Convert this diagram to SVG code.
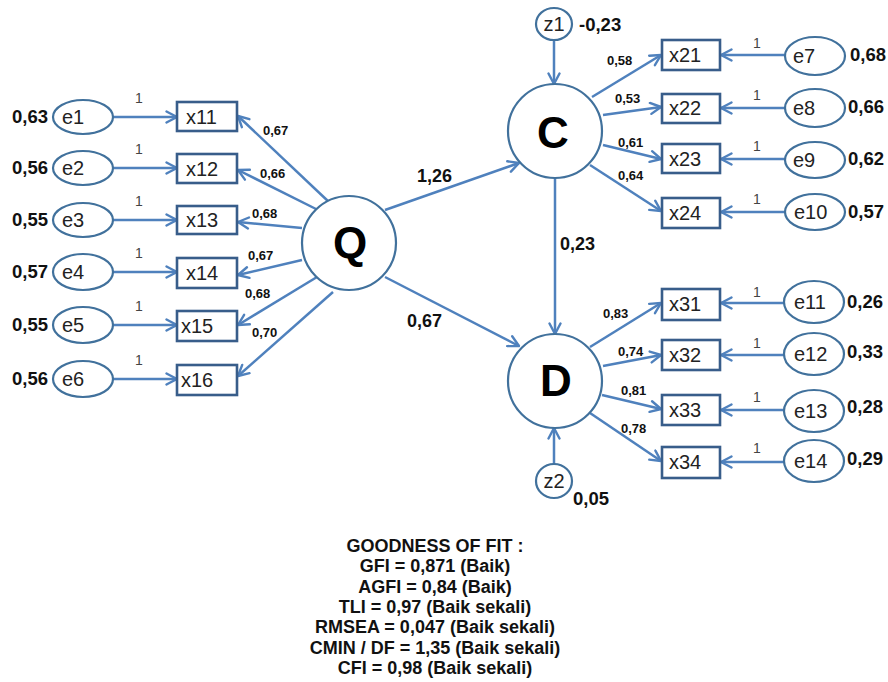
<svg xmlns="http://www.w3.org/2000/svg" width="888" height="682" viewBox="0 0 888 682">
<defs>
<marker id="ah" markerUnits="userSpaceOnUse" viewBox="0 0 14 14" markerWidth="14" markerHeight="14" refX="12.5" refY="7" orient="auto">
<path d="M2,1.5 L12.5,7 L2,12.5" fill="none" stroke="#4F81BD" stroke-width="2.4" stroke-linecap="round" stroke-linejoin="round"/>
</marker>
<style>
.ln{stroke:#4F81BD;stroke-width:2.5;fill:none;marker-end:url(#ah)}
.el{fill:#fff;stroke:#41719C;stroke-width:2.2}
.bx{fill:#fff;stroke:#385D8A;stroke-width:2.6}
.nt{font-family:"Liberation Sans",Arial,sans-serif;font-size:20px;fill:#222}
.one{font-family:"Liberation Sans",Arial,sans-serif;font-size:14px;fill:#444}
.vr{font-family:"Liberation Sans",Arial,sans-serif;font-size:18.5px;font-weight:bold;fill:#111}
.ld{font-family:"Liberation Sans",Arial,sans-serif;font-size:13px;font-weight:bold;fill:#111}
.pl{font-family:"Liberation Sans",Arial,sans-serif;font-size:18px;font-weight:bold;fill:#111}
.big{font-family:"Liberation Sans",Arial,sans-serif;font-size:44px;font-weight:bold;fill:#000;text-anchor:middle}
.gf{font-family:"Liberation Sans",Arial,sans-serif;font-size:18px;font-weight:bold;fill:#111;text-anchor:middle}
</style>
</defs>
<rect width="888" height="682" fill="#fff"/>

<g id="connectors">
<line class="ln" x1="113" y1="117" x2="177" y2="117"/>
<line class="ln" x1="113" y1="168" x2="177" y2="168"/>
<line class="ln" x1="113" y1="220" x2="177" y2="220"/>
<line class="ln" x1="113" y1="272" x2="177" y2="272"/>
<line class="ln" x1="113" y1="325" x2="177" y2="325"/>
<line class="ln" x1="113" y1="379" x2="177" y2="379"/>
<line class="ln" x1="330" y1="203" x2="238" y2="116"/>
<line class="ln" x1="318" y1="210" x2="238" y2="170"/>
<line class="ln" x1="302" y1="228" x2="238" y2="222"/>
<line class="ln" x1="302" y1="260" x2="238" y2="275"/>
<line class="ln" x1="317" y1="277" x2="238" y2="325"/>
<line class="ln" x1="333" y1="292" x2="238" y2="376"/>
<line class="ln" x1="385" y1="210" x2="519" y2="163"/>
<line class="ln" x1="385" y1="277" x2="519" y2="346"/>
<line class="ln" x1="555" y1="178" x2="555" y2="334"/>
<line class="ln" x1="554" y1="40" x2="554" y2="84"/>
<line class="ln" x1="554" y1="464" x2="554" y2="428"/>
<line class="ln" x1="592" y1="97" x2="661" y2="55"/>
<line class="ln" x1="603" y1="115" x2="661" y2="107"/>
<line class="ln" x1="603" y1="145" x2="661" y2="159"/>
<line class="ln" x1="590" y1="165" x2="661" y2="211"/>
<line class="ln" x1="590" y1="347" x2="661" y2="303"/>
<line class="ln" x1="603" y1="366" x2="661" y2="355"/>
<line class="ln" x1="602" y1="395" x2="661" y2="409"/>
<line class="ln" x1="590" y1="413" x2="661" y2="461"/>
<line class="ln" x1="785" y1="55" x2="721" y2="55"/>
<line class="ln" x1="785" y1="108" x2="721" y2="108"/>
<line class="ln" x1="785" y1="159" x2="721" y2="159"/>
<line class="ln" x1="785" y1="212" x2="721" y2="212"/>
<line class="ln" x1="785" y1="303" x2="721" y2="303"/>
<line class="ln" x1="785" y1="355" x2="721" y2="355"/>
<line class="ln" x1="785" y1="410" x2="721" y2="410"/>
<line class="ln" x1="785" y1="462" x2="721" y2="462"/>
</g>

<g id="connector-labels">
<text class="one" x="135" y="103">1</text>
<text class="one" x="135" y="154">1</text>
<text class="one" x="135" y="206">1</text>
<text class="one" x="135" y="258">1</text>
<text class="one" x="135" y="311">1</text>
<text class="one" x="135" y="365">1</text>
<text class="ld" x="263" y="135">0,67</text>
<text class="ld" x="260" y="178">0,66</text>
<text class="ld" x="252" y="218">0,68</text>
<text class="ld" x="248" y="260">0,67</text>
<text class="ld" x="245" y="298">0,68</text>
<text class="ld" x="252" y="337">0,70</text>
<text class="pl" x="417" y="182">1,26</text>
<text class="pl" x="407" y="327">0,67</text>
<text class="pl" x="560" y="250">0,23</text>
<text class="ld" x="607" y="65">0,58</text>
<text class="ld" x="615" y="103">0,53</text>
<text class="ld" x="618" y="147">0,61</text>
<text class="ld" x="618" y="180">0,64</text>
<text class="ld" x="603" y="318">0,83</text>
<text class="ld" x="618" y="356">0,74</text>
<text class="ld" x="621" y="395">0,81</text>
<text class="ld" x="621" y="433">0,78</text>
<text class="one" x="753" y="48">1</text>
<text class="one" x="753" y="100">1</text>
<text class="one" x="753" y="151">1</text>
<text class="one" x="753" y="204">1</text>
<text class="one" x="753" y="297">1</text>
<text class="one" x="753" y="348">1</text>
<text class="one" x="753" y="402">1</text>
<text class="one" x="753" y="453">1</text>
</g>

<g id="e1"><ellipse class="el" cx="83" cy="117" rx="30" ry="17"/><text class="nt" x="62" y="124">e1</text><text class="vr" x="48" y="123" text-anchor="end">0,63</text></g>
<g id="e2"><ellipse class="el" cx="83" cy="168" rx="30" ry="17"/><text class="nt" x="62" y="175">e2</text><text class="vr" x="48" y="174" text-anchor="end">0,56</text></g>
<g id="e3"><ellipse class="el" cx="83" cy="220" rx="30" ry="17"/><text class="nt" x="62" y="227">e3</text><text class="vr" x="48" y="226" text-anchor="end">0,55</text></g>
<g id="e4"><ellipse class="el" cx="83" cy="272" rx="30" ry="18"/><text class="nt" x="62" y="279">e4</text><text class="vr" x="48" y="278" text-anchor="end">0,57</text></g>
<g id="e5"><ellipse class="el" cx="83" cy="325" rx="30" ry="18"/><text class="nt" x="62" y="332">e5</text><text class="vr" x="48" y="331" text-anchor="end">0,55</text></g>
<g id="e6"><ellipse class="el" cx="83" cy="379" rx="30" ry="18"/><text class="nt" x="62" y="386">e6</text><text class="vr" x="48" y="385" text-anchor="end">0,56</text></g>

<g id="x11"><rect class="bx" x="177" y="102" width="60" height="29"/><text class="nt" x="186" y="124">x11</text></g>
<g id="x12"><rect class="bx" x="177" y="154" width="60" height="29"/><text class="nt" x="186" y="176">x12</text></g>
<g id="x13"><rect class="bx" x="177" y="206" width="60" height="28"/><text class="nt" x="186" y="227">x13</text></g>
<g id="x14"><rect class="bx" x="177" y="258" width="60" height="30"/><text class="nt" x="186" y="280">x14</text></g>
<g id="x15"><rect class="bx" x="177" y="311" width="60" height="30"/><text class="nt" x="181" y="333">x15</text></g>
<g id="x16"><rect class="bx" x="177" y="365" width="60" height="30"/><text class="nt" x="181" y="387">x16</text></g>

<g id="Q"><circle class="el" cx="349" cy="243" r="47"/><text class="big" x="350" y="258">Q</text></g>
<g id="C"><circle class="el" cx="555" cy="131" r="47"/><text class="big" x="553" y="148" font-size="42">C</text></g>
<g id="D"><circle class="el" cx="555" cy="381" r="47"/><text class="big" x="556" y="396" font-size="42">D</text></g>

<g id="z1"><ellipse class="el" cx="554" cy="24" rx="18" ry="16"/><text class="nt" x="554" y="31" text-anchor="middle">z1</text><text class="vr" x="579" y="31" font-size="17">-0,23</text></g>
<g id="z2"><ellipse class="el" cx="554" cy="481" rx="18" ry="17"/><text class="nt" x="554" y="488" text-anchor="middle">z2</text><text class="vr" x="573" y="505" font-size="17">0,05</text></g>

<g id="x21"><rect class="bx" x="662" y="40" width="58" height="30"/><text class="nt" x="669" y="62">x21</text></g>
<g id="x22"><rect class="bx" x="662" y="94" width="58" height="29"/><text class="nt" x="669" y="115">x22</text></g>
<g id="x23"><rect class="bx" x="662" y="144" width="58" height="29"/><text class="nt" x="669" y="166">x23</text></g>
<g id="x24"><rect class="bx" x="662" y="198" width="58" height="30"/><text class="nt" x="669" y="220">x24</text></g>
<g id="x31"><rect class="bx" x="662" y="289" width="58" height="31"/><text class="nt" x="669" y="311">x31</text></g>
<g id="x32"><rect class="bx" x="662" y="340" width="58" height="30"/><text class="nt" x="669" y="362">x32</text></g>
<g id="x33"><rect class="bx" x="662" y="395" width="58" height="30"/><text class="nt" x="669" y="417">x33</text></g>
<g id="x34"><rect class="bx" x="662" y="447" width="58" height="31"/><text class="nt" x="669" y="469">x34</text></g>

<g id="e7"><ellipse class="el" cx="815" cy="56" rx="30" ry="19"/><text class="nt" x="793" y="63">e7</text><text class="vr" x="850" y="61">0,68</text></g>
<g id="e8"><ellipse class="el" cx="815" cy="108" rx="30" ry="19"/><text class="nt" x="793" y="115">e8</text><text class="vr" x="848" y="113">0,66</text></g>
<g id="e9"><ellipse class="el" cx="815" cy="160" rx="30" ry="18"/><text class="nt" x="793" y="167">e9</text><text class="vr" x="848" y="165">0,62</text></g>
<g id="e10"><ellipse class="el" cx="815" cy="212" rx="30" ry="18"/><text class="nt" x="794" y="219">e10</text><text class="vr" x="848" y="218">0,57</text></g>
<g id="e11"><ellipse class="el" cx="814" cy="302" rx="30" ry="21"/><text class="nt" x="794" y="309">e11</text><text class="vr" x="847" y="308">0,26</text></g>
<g id="e12"><ellipse class="el" cx="814" cy="354" rx="30" ry="21"/><text class="nt" x="794" y="361">e12</text><text class="vr" x="847" y="358">0,33</text></g>
<g id="e13"><ellipse class="el" cx="814" cy="411" rx="30" ry="21"/><text class="nt" x="794" y="418">e13</text><text class="vr" x="847" y="413">0,28</text></g>
<g id="e14"><ellipse class="el" cx="814" cy="461" rx="30" ry="21"/><text class="nt" x="794" y="468">e14</text><text class="vr" x="847" y="465">0,29</text></g>

<g id="fit">
<text class="gf" x="435" y="552">GOODNESS OF FIT :</text>
<text class="gf" x="435" y="572">GFI = 0,871 (Baik)</text>
<text class="gf" x="435" y="593">AGFI = 0,84 (Baik)</text>
<text class="gf" x="435" y="613">TLI = 0,97 (Baik sekali)</text>
<text class="gf" x="435" y="633">RMSEA = 0,047 (Baik sekali)</text>
<text class="gf" x="435" y="654">CMIN / DF = 1,35 (Baik sekali)</text>
<text class="gf" x="435" y="674">CFI = 0,98 (Baik sekali)</text>
</g>
</svg>
